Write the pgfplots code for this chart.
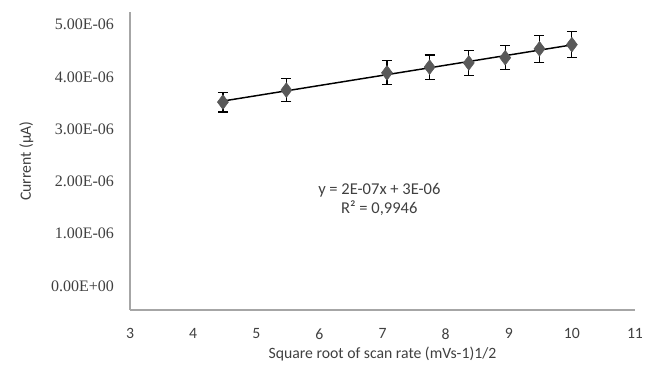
\documentclass[border=0pt]{standalone}
\usepackage{pgfplots}
\pgfplotsset{compat=1.18}
\usepackage{fontspec}
\setmainfont{Carlito}
\newfontfamily\serif{Liberation Serif}
\definecolor{axisgrey}{HTML}{A6A6A6}
\definecolor{markgrey}{HTML}{595959}
\definecolor{txt}{HTML}{404040}
\begin{document}
\begin{tikzpicture}
\useasboundingbox (-97.5pt,-48pt) rectangle (396pt,232.5pt);
\begin{axis}[
  at={(0pt,0pt)}, anchor=south west,
  scale only axis, width=378.75pt, height=223.5pt,
  xmin=3, xmax=11, ymin=-0.46e-6, ymax=5.245e-6,
  axis x line*=bottom, axis y line*=left,
  axis line style={axisgrey, line width=1.1pt},
  major tick length=0pt,
  xtick={3,4,5,6,7,8,9,10,11},
  ytick={0,1e-6,2e-6,3e-6,4e-6,5e-6},
  yticklabels={0.00E+00,1.00E-06,2.00E-06,3.00E-06,4.00E-06,5.00E-06},
  scaled y ticks=false,
  /pgf/number format/assume math mode=true,
  xticklabel style={font=\fontsize{11.8}{13}\selectfont, text=txt, yshift=-10.5pt},
  yticklabel style={font=\serif\fontsize{12}{13}\selectfont, text=txt, xshift=-8.5pt},
  xlabel={Square root of scan rate (mVs-1)1/2},
  ylabel={Current (µA)},
  label style={font=\fontsize{11.8}{13}\selectfont, text=txt},
  xlabel style={yshift=1pt},
  ylabel style={yshift=6.5pt},
  clip=false,
]
\addplot[only marks, mark=diamond*, mark size=5.5pt, mark options={fill=markgrey, draw=markgrey},
  error bars/.cd, y dir=both, y explicit,
  error bar style={black, line width=0.9pt},
  error mark options={rotate=90, black, mark size=3.75pt, line width=0.9pt}]
coordinates {
 (4.472, 3.52e-6) +- (0, 0.19e-6)
 (5.477, 3.75e-6) +- (0, 0.22e-6)
 (7.071, 4.08e-6) +- (0, 0.23e-6)
 (7.746, 4.19e-6) +- (0, 0.23e-6)
 (8.367, 4.27e-6) +- (0, 0.24e-6)
 (8.944, 4.37e-6) +- (0, 0.23e-6)
 (9.487, 4.54e-6) +- (0, 0.26e-6)
 (10.000, 4.62e-6) +- (0, 0.25e-6)
};
\addplot[black, line width=1.1pt, no marks] coordinates {(4.472, 3.540e-6) (10.000, 4.615e-6)};
\node[font=\fontsize{12.4}{14.5}\selectfont, text=txt, align=center] at (axis cs:6.95,1.66e-6) {y = 2E-07x + 3E-06\\R² = 0,9946};
\end{axis}
\end{tikzpicture}
\end{document}
